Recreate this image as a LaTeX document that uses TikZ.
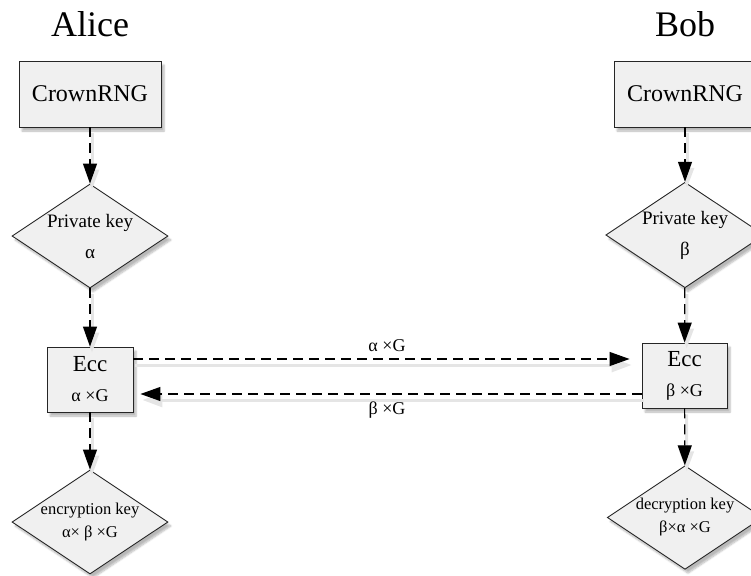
\documentclass[tikz,border=0pt]{standalone}
\usepackage{fontspec}
\setmainfont{Liberation Serif}
\usetikzlibrary{shapes.geometric,arrows.meta,shadows.blur}

\tikzset{
  every node/.style={inner sep=0pt},
  shade box/.style={blur shadow={shadow xshift=3pt,shadow yshift=-4pt,shadow opacity=28,shadow blur steps=6}},
  procbox/.style={rectangle,draw=black!85,fill=black!6,line width=0.9pt,shade box,align=center},
  keybox/.style={diamond,draw=black!85,fill=black!6,line width=0.9pt,shade box,align=center,
    minimum width=156pt,minimum height=104pt,aspect=1.5},
  flow/.style={draw=black,line width=1.2pt,dash pattern=on 10pt off 6pt,
    -{Triangle[length=20pt,width=14pt]},
    preaction={draw=black!10,line width=3pt,transform canvas={xshift=2pt,yshift=-6pt}}},
  title/.style={font=\fontsize{36}{40}\selectfont},
}

\begin{document}
\begin{tikzpicture}[x=1pt,y=-1pt]
\useasboundingbox (0,0) rectangle (751,575);

% party names
\node[title,anchor=base] (alice) at (90,37) {Alice};
\node[title,anchor=base] (bob) at (685,37) {Bob};

% random number generators
\node[procbox,minimum width=142pt,minimum height=66pt,font=\fontsize{24}{28}\selectfont] (argn) at (90,94) {CrownRNG};
\node[procbox,minimum width=142pt,minimum height=66pt,font=\fontsize{24}{28}\selectfont] (brgn) at (685,94) {CrownRNG};

% private keys
\node[keybox,font=\fontsize{19}{31}\selectfont] (apriv) at (90,236) {Private key\\α};
\node[keybox,font=\fontsize{19}{31}\selectfont] (bpriv) at (685,235) {Private key\\β};

% elliptic curve multiplication
\node[procbox,minimum width=86pt,minimum height=65pt,font=\fontsize{23}{30}\selectfont] (aecc) at (90,379.5)
  {Ecc\\{\fontsize{18}{30}\selectfont α ×G}};
\node[procbox,minimum width=85pt,minimum height=65pt,font=\fontsize{23}{30}\selectfont] (becc) at (684.5,375.5)
  {Ecc\\{\fontsize{18}{30}\selectfont β ×G}};

% shared keys
\node[keybox,font=\fontsize{16.5}{23}\selectfont] (aenc) at (90,522) {encryption key\\α× β ×G};
\node[keybox,font=\fontsize{16.5}{23}\selectfont,minimum height=101pt,minimum width=152pt] (bdec) at (685,517.5) {decryption key\\β×α ×G};

% vertical flows
\draw[flow] (argn) -- (apriv);
\draw[flow] (apriv) -- (aecc);
\draw[flow] (aecc) -- (aenc);
\draw[flow] (brgn) -- (bpriv);
\draw[flow] (bpriv) -- (becc);
\draw[flow] (becc) -- (bdec);

% public key exchange
\draw[flow,shorten >=12pt] ([yshift=20.5pt]aecc.east) -- ([yshift=20.5pt]aecc.east -| becc.west);
\draw[flow,shorten >=7pt] ([yshift=-18.5pt]becc.west) -- ([yshift=-18.5pt]becc.west -| aecc.east);
\node[font=\fontsize{18}{22}\selectfont] (pa) at (387,346) {α ×G};
\node[font=\fontsize{18}{22}\selectfont] (pb) at (387,410) {β ×G};
\end{tikzpicture}
\end{document}
